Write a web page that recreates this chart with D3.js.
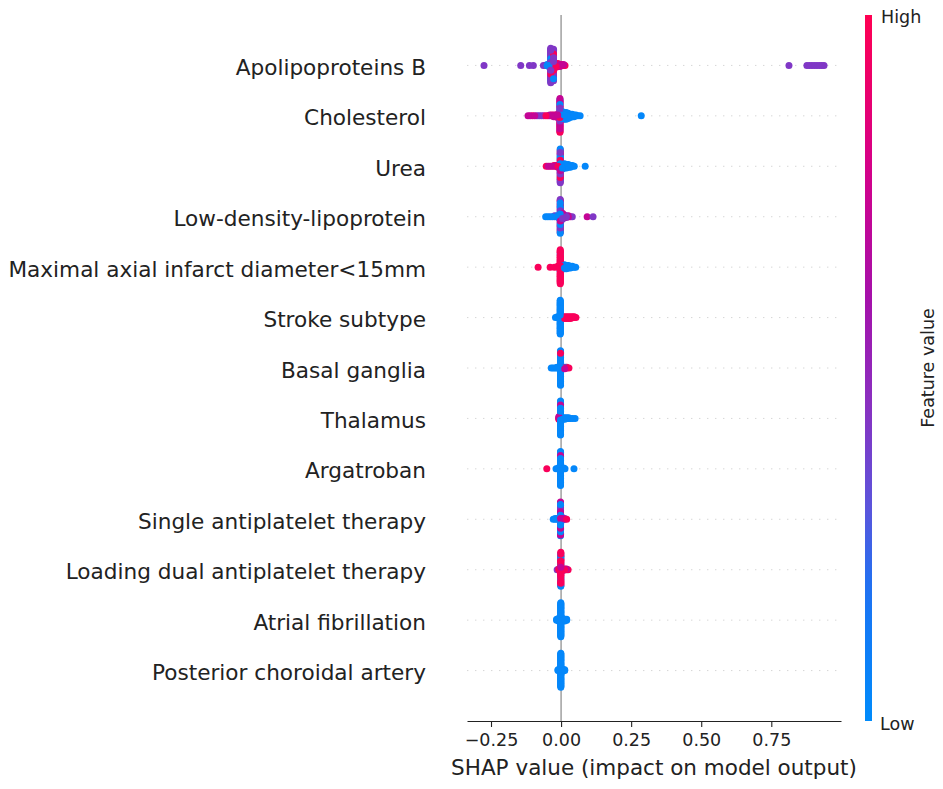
<!DOCTYPE html>
<html lang="en">
<head>
<meta charset="UTF-8">
<title>SHAP summary plot</title>
<script src="https://d3js.org/d3.v7.min.js"></script>
<style>
  body { margin: 0; background: #fff; }
  svg { font-family: "DejaVu Sans", sans-serif; }
</style>
</head>
<body>
<svg id="chart" width="943" height="789"></svg>
<script>
// feature value shades (0 = low, 1 = high)
const B = 0.03, V = 0.25, P = 0.42, M = 0.72, R = 0.97;

// each entry: [SHAP value, feature value, samples at that value]
const apolipoproteinsB = [
  [-0.275, P, 1], [-0.144, P, 1], [-0.113, P, 1], [-0.099, P, 1],
  [-0.063, P, 1], [-0.056, B, 1], [-0.050, B, 2], [-0.044, B, 3],
  [-0.037, P, 30], [-0.037, B, 4], [-0.037, R, 3],
  [-0.027, P, 26], [-0.027, R, 5], [-0.027, B, 3],
  [-0.018, R, 5], [-0.011, R, 4], [-0.004, M, 3], [0.003, R, 2], [0.009, M, 2], [0.014, R, 1],
  [0.813, P, 1], [0.877, P, 1], [0.886, P, 1], [0.895, P, 1], [0.904, P, 1],
  [0.913, P, 1], [0.922, P, 1], [0.930, P, 1], [0.938, P, 1]
];
const cholesterol = [
  [-0.118, M, 1], [-0.110, M, 1], [-0.102, R, 1], [-0.094, M, 1], [-0.086, P, 1],
  [-0.078, P, 1], [-0.070, P, 1], [-0.062, M, 1], [-0.054, R, 1], [-0.047, M, 1],
  [-0.040, M, 2], [-0.033, R, 2], [-0.026, M, 3], [-0.019, R, 3], [-0.012, M, 5],
  [-0.004, M, 16], [-0.004, R, 12], [-0.004, P, 8], [-0.004, B, 4],
  [0.004, B, 8], [0.004, P, 2], [0.011, B, 9], [0.018, B, 9], [0.025, B, 7], [0.032, B, 5],
  [0.039, B, 4], [0.046, B, 3], [0.053, B, 2], [0.060, B, 1], [0.068, B, 1],
  [0.286, B, 1]
];
const urea = [
  [-0.053, R, 1], [-0.046, M, 1], [-0.039, R, 1], [-0.032, M, 1], [-0.025, R, 2],
  [-0.018, M, 2], [-0.011, R, 3],
  [-0.003, P, 12], [-0.003, B, 12], [-0.003, R, 10], [-0.003, M, 6],
  [0.005, B, 5], [0.005, P, 2], [0.012, B, 6], [0.019, B, 5], [0.026, B, 4],
  [0.033, B, 3], [0.040, B, 2], [0.047, B, 1], [0.086, B, 1]
];
const lowDensityLipoprotein = [
  [-0.055, B, 1], [-0.047, B, 1], [-0.039, V, 1], [-0.031, B, 1], [-0.023, P, 2],
  [-0.015, B, 2], [-0.009, B, 3],
  [-0.003, P, 14], [-0.003, B, 12], [-0.003, R, 8], [-0.003, M, 6],
  [0.005, M, 5], [0.005, P, 3], [0.012, M, 4], [0.019, P, 3], [0.026, M, 2],
  [0.033, M, 1], [0.040, P, 1], [0.093, M, 1], [0.114, P, 1]
];
const maximalAxialDiameter = [
  [-0.082, R, 1], [-0.039, R, 1], [-0.024, R, 1], [-0.012, R, 2],
  [-0.003, R, 40], [-0.003, B, 2],
  [0.005, B, 6], [0.012, B, 6], [0.019, B, 5], [0.026, B, 4], [0.033, B, 3],
  [0.040, B, 2], [0.047, B, 1], [0.052, B, 1]
];
const strokeSubtype = [
  [-0.020, B, 1], [-0.013, B, 2],
  [-0.003, B, 42],
  [0.006, R, 3], [0.013, R, 3], [0.020, R, 3], [0.027, R, 3], [0.034, R, 3],
  [0.041, R, 2], [0.047, R, 2], [0.053, R, 1]
];
const basalGanglia = [
  [-0.035, B, 1], [-0.028, B, 1], [-0.021, B, 1], [-0.014, B, 2], [-0.008, B, 2],
  [-0.002, B, 40], [-0.002, R, 3],
  [0.006, R, 2], [0.006, B, 1], [0.013, M, 2], [0.013, B, 1], [0.020, R, 2], [0.028, R, 1]
];
const thalamus = [
  [-0.008, R, 2], [-0.008, M, 2],
  [-0.002, B, 42], [-0.002, M, 2],
  [0.006, B, 3], [0.013, B, 3], [0.020, B, 2], [0.027, B, 2], [0.034, B, 1],
  [0.041, B, 1], [0.050, B, 1]
];
const argatroban = [
  [-0.051, R, 1], [-0.018, B, 1], [-0.010, B, 2],
  [-0.002, B, 42], [-0.002, M, 2],
  [0.004, R, 2], [0.009, B, 2], [0.014, B, 1], [0.046, B, 1]
];
const singleAntiplatelet = [
  [-0.028, B, 1], [-0.021, B, 2], [-0.014, B, 2], [-0.008, P, 2],
  [-0.002, B, 18], [-0.002, M, 18], [-0.002, P, 6],
  [0.006, M, 3], [0.006, B, 1], [0.013, P, 2], [0.020, R, 1]
];
const loadingDualAntiplatelet = [
  [-0.014, P, 1], [-0.008, R, 2],
  [-0.001, R, 30], [-0.001, B, 10], [-0.001, M, 4],
  [0.007, M, 3], [0.013, R, 2], [0.019, M, 2], [0.025, R, 1]
];
const atrialFibrillation = [
  [-0.016, B, 2], [-0.009, B, 4],
  [-0.001, B, 44],
  [0.006, B, 4], [0.013, B, 3], [0.020, B, 2]
];
const posteriorChoroidal = [
  [-0.011, B, 2], [-0.005, B, 4],
  [-0.001, B, 44],
  [0.006, B, 4], [0.013, B, 2]
];

const features = [
  "Apolipoproteins B", "Cholesterol", "Urea", "Low-density-lipoprotein",
  "Maximal axial infarct diameter<15mm", "Stroke subtype", "Basal ganglia",
  "Thalamus", "Argatroban", "Single antiplatelet therapy",
  "Loading dual antiplatelet therapy", "Atrial fibrillation", "Posterior choroidal artery"
];
const featureData = [
  apolipoproteinsB, cholesterol, urea, lowDensityLipoprotein, maximalAxialDiameter,
  strokeSubtype, basalGanglia, thalamus, argatroban, singleAntiplatelet,
  loadingDualAntiplatelet, atrialFibrillation, posteriorChoroidal
];
const xTicks = [-0.25, 0, 0.25, 0.5, 0.75];

// colour bar stops, low -> high
const colorStops = [0, 0.18, 0.3, 0.45, 0.6, 0.78, 1];
const colorValues = ["#008bfb", "#1a74f4", "#5a55dc", "#8a30c0", "#a510aa", "#d4008a", "#ff0052"];

const svg = d3.select("#chart");
const plotLeft = 467, plotRight = 841, plotTop = 15, plotBottom = 721;
const dotR = 3.5;

// x limits padded by 5% like matplotlib autoscale
const [vmin, vmax] = d3.extent(featureData.flat(), d => d[0]);
const pad = (vmax - vmin) * 0.05;
const x = d3.scaleLinear().domain([vmin - pad, vmax + pad]).range([plotLeft, plotRight]);
const step = (plotBottom - plotTop) / (features.length + 1);
const y = d3.scalePoint().domain(features).range([plotTop + step, plotBottom - step]);
const color = d3.scaleLinear().domain(colorStops).range(colorValues).interpolate(d3.interpolateRgb);

// stack samples sharing a value, alternating above/below the row line
function swarm(groups) {
  const stacks = d3.group(groups.map((g, gi) => ({ g, gi })), d => d.g[0]);
  const pts = [];
  let maxHalf = 0;
  for (const [v, list] of stacks) {
    const items = [];
    list.forEach(({ g, gi }) => {
      for (let k = 0; k < g[2]; k++) items.push({ v, c: g[1], key: (k + 0.5) / g[2], gi });
    });
    items.sort((a, b) => a.key - b.key || a.gi - b.gi);
    items.forEach((p, layer) => {
      p.layer = Math.ceil(layer / 2) * ((layer % 2) * 2 - 1);
      maxHalf = Math.max(maxHalf, Math.abs(p.layer));
      pts.push(p);
    });
  }
  const unit = 0.9 * 0.4 * step / (maxHalf + 1);
  pts.forEach((p, i) => {
    p.dy = -p.layer * unit;
    p.order = (i * 0.6180339887) % 1; // scrambled paint order, layers don't paint inside-out
  });
  return pts.sort((a, b) => a.order - b.order);
}

// row grid lines
svg.append("g").selectAll("line")
  .data(features)
  .join("line")
  .attr("x1", plotLeft).attr("x2", plotRight)
  .attr("y1", d => y(d)).attr("y2", d => y(d))
  .attr("stroke", "#cccccc")
  .attr("stroke-width", 0.8)
  .attr("stroke-dasharray", "1.4,6.6");

// zero line
svg.append("line")
  .attr("x1", x(0)).attr("x2", x(0))
  .attr("y1", plotTop).attr("y2", plotBottom)
  .attr("stroke", "#999999")
  .attr("stroke-width", 1.4);

// dots
features.forEach((name, i) => {
  const cy = y(name);
  svg.append("g").selectAll("circle")
    .data(swarm(featureData[i]))
    .join("circle")
    .attr("cx", d => x(d.v))
    .attr("cy", d => cy + d.dy)
    .attr("r", dotR)
    .attr("fill", d => color(d.c));
});

// feature labels
svg.append("g").selectAll("text")
  .data(features)
  .join("text")
  .attr("x", 426)
  .attr("y", d => y(d) + 9.6)
  .attr("text-anchor", "end")
  .attr("font-size", 21.6)
  .attr("fill", "#222")
  .text(d => d);

// x axis
const xAxis = svg.append("g")
  .attr("transform", `translate(0,${plotBottom})`)
  .call(d3.axisBottom(x).tickValues(xTicks).tickFormat(d3.format(".2f")).tickSize(6).tickSizeOuter(0));
xAxis.select(".domain").attr("stroke", "#222").attr("stroke-width", 1.1);
xAxis.selectAll(".tick line").attr("stroke", "#222").attr("stroke-width", 1.1);
xAxis.selectAll(".tick text")
  .attr("y", 12.5)
  .attr("font-size", 17.5)
  .attr("font-family", "DejaVu Sans, sans-serif")
  .attr("fill", "#222");

svg.append("text")
  .attr("x", (plotLeft + plotRight) / 2)
  .attr("y", 775)
  .attr("text-anchor", "middle")
  .attr("font-size", 21.5)
  .attr("fill", "#222")
  .text("SHAP value (impact on model output)");

// colour bar
const grad = svg.append("defs").append("linearGradient")
  .attr("id", "cbar")
  .attr("x1", 0).attr("y1", 1).attr("x2", 0).attr("y2", 0);
grad.selectAll("stop")
  .data(d3.range(0, 1.0001, 0.05))
  .join("stop")
  .attr("offset", d => d)
  .attr("stop-color", d => color(d));

svg.append("rect")
  .attr("x", 865).attr("y", plotTop)
  .attr("width", 7).attr("height", plotBottom - plotTop)
  .attr("fill", "url(#cbar)");

svg.append("text")
  .attr("x", 881).attr("y", 23)
  .attr("font-size", 17.5).attr("fill", "#222")
  .text("High");
svg.append("text")
  .attr("x", 880).attr("y", 729.5)
  .attr("font-size", 17.5).attr("fill", "#222")
  .text("Low");
svg.append("text")
  .attr("transform", `translate(934,${(plotTop + plotBottom) / 2}) rotate(-90)`)
  .attr("text-anchor", "middle")
  .attr("font-size", 17.5).attr("fill", "#222")
  .text("Feature value");
</script>
</body>
</html>
